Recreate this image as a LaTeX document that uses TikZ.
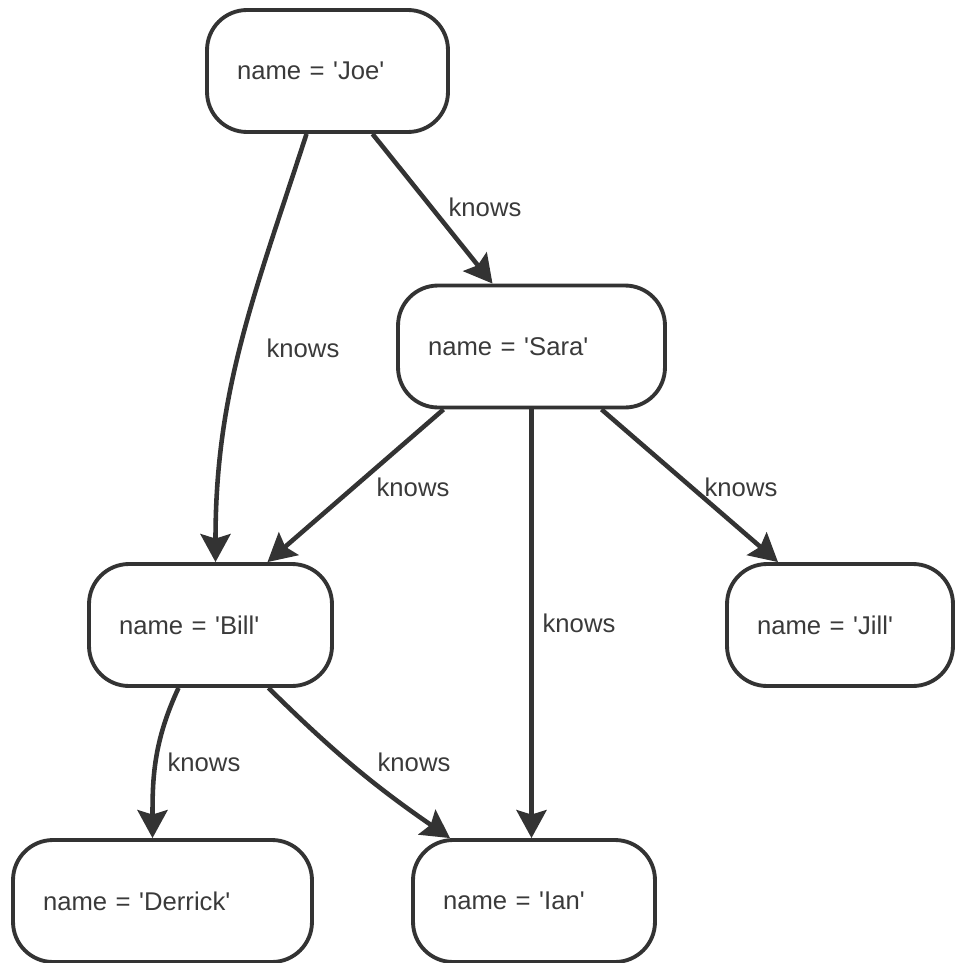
\documentclass[tikz,border=0pt]{standalone}
\usepackage{fontspec}
\setmainfont{Liberation Sans}
\usetikzlibrary{arrows.meta}

\definecolor{linegray}{HTML}{333333}
\definecolor{textgray}{HTML}{3A3A3A}
\newcommand{\q}{\textquotesingle}

\tikzset{
  person/.style={draw=linegray, line width=2.2pt, rounded corners=0.8cm,
    minimum height=2.44cm, inner xsep=0.6cm, text width=#1, align=left,
    text=textgray, font=\fontsize{14.6}{17}\selectfont},
  knows/.style={draw=linegray, line width=2.6pt,
    -{Stealth[length=0.56cm, width=0.6cm, inset=0.09cm]}},
  lbl/.style={text=textgray, font=\fontsize{14.6}{17}\selectfont}
}

\begin{document}
\begin{tikzpicture}[x=0.02cm, y=-0.02cm]
        \useasboundingbox (0,0) rectangle (954,963);

        % People
        \node[person=3.62cm] (joe) at (327.5,71) {name = \q Joe\q};
        \node[person=4.14cm] (sara) at (531.5,346.5) {name = \q Sara\q};
        \node[person=3.66cm] (bill) at (210.5,625) {name = \q Bill\q};
        \node[person=3.32cm] (jill) at (840,625) {name = \q Jill\q};
        \node[person=4.78cm] (derrick) at (162.5,901) {name = \q Derrick\q};
        \node[person=3.64cm] (ian) at (534,901) {name = \q Ian\q};

        % Edges
        \draw[knows] ([xshift=-0.42cm]joe.south) to[out=-108, in=90] ([xshift=0.1cm]bill.north);
        \draw[knows] ([xshift=0.9cm]joe.south) -- ([xshift=-0.78cm]sara.north);
        \draw[knows] ([xshift=-1.76cm]sara.south) -- ([xshift=1.14cm]bill.north);
        \draw[knows] (sara.south) -- (sara.south |- ian.north);
        \draw[knows] ([xshift=1.4cm]sara.south) -- ([xshift=-1.24cm]jill.north);
        \draw[knows] ([xshift=-0.64cm]bill.south) to[out=-115, in=90] ([xshift=-0.2cm]derrick.north);
        \draw[knows] ([xshift=1.16cm]bill.south) to[bend right=5] ([xshift=-1.68cm]ian.north);

        % Labels
        \node[lbl] (kJoeBill) at (303,348) {knows};
        \node[lbl] (kJoeSara) at (485,207) {knows};
        \node[lbl] (kSaraBill) at (413,487) {knows};
        \node[lbl] (kSaraIan) at (579,623) {knows};
        \node[lbl] (kSaraJill) at (741,487) {knows};
        \node[lbl] (kBillDerrick) at (204,762) {knows};
        \node[lbl] (kBillIan) at (414,762) {knows};
\end{tikzpicture}
\end{document}
